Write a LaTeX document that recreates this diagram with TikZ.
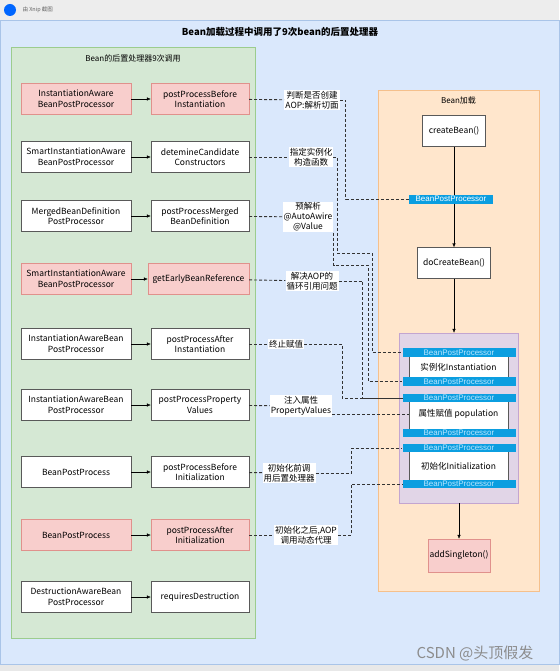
\documentclass[tikz,border=0pt]{standalone}
\usepackage{fontspec}
\setmainfont{Noto Sans CJK SC}
\newfontfamily\bppfont{Liberation Sans}
\usetikzlibrary{positioning, arrows.meta}
\definecolor{outerbg}{HTML}{DAE8FC}
\definecolor{outerline}{HTML}{A9C4E8}
\definecolor{greenbg}{HTML}{D5E8D4}
\definecolor{greenline}{HTML}{9CCC8E}
\definecolor{pinkbg}{HTML}{F8CECC}
\definecolor{pinkline}{HTML}{E0918C}
\definecolor{orangebg}{HTML}{FFE6CC}
\definecolor{orangeline}{HTML}{F5C08C}
\definecolor{purplebg}{HTML}{E1D5E7}
\definecolor{purpleline}{HTML}{C3A5D0}
\definecolor{bppblue}{HTML}{0B9EE0}
\definecolor{bpptext}{HTML}{B8E6FF}
\tikzset{box/.style={draw=black!65,fill=white,inner sep=1pt,align=center,font=\fontsize{8.5}{10.5}\selectfont},
         proc/.style={box,minimum width=110pt,minimum height=31pt},
         meth/.style={box,minimum width=98pt,minimum height=31pt},
         hot/.style={fill=pinkbg,draw=pinkline},
         note/.style={fill=white,inner sep=1pt,align=center,font=\fontsize{8.5}{10}\selectfont},
         hint/.style={draw=black!80,line width=0.9pt,dash pattern=on 3pt off 2pt},
         bar/.style={fill=bppblue,minimum width=113pt,minimum height=8.5pt,inner sep=0pt,text=bpptext,font=\bppfont\fontsize{8}{8}\selectfont},
        }

\begin{document}
\begin{tikzpicture}[x=1pt,y=-1pt,>={Latex[length=4pt,width=3.5pt]}]
        \useasboundingbox(0,0)rectangle(559,671);
        \fill[black!7](0,0)rectangle(559,20);
        \fill[blue!60!cyan](10,10)circle(6pt);
        \node[font=\fontsize{5.5}{5.5}\selectfont, text=black!60, anchor=west](xnip)at(19,10){由 Xnip 截图};
        \fill[black!9](0,664)rectangle(559,671);

        \node[draw=outerline, fill=outerbg, minimum width=559pt, minimum height=644pt, inner sep=0pt](outer)at(279.5,342){};
        \node[font=\bfseries\fontsize{9.5}{11}\selectfont](title)at(280,32){Bean加载过程中调用了9次bean的后置处理器};

        \node[draw=greenline, fill=greenbg, minimum width=244pt, minimum height=591pt, inner sep=0pt](left)at(133,342.5){};
        \node[font=\fontsize{8}{9}\selectfont, below=4pt of left.north](lefttitle){Bean的后置处理器9次调用};

        \node[proc, hot](p1)at(76,99){InstantiationAware\\BeanPostProcessor};
        \node[meth, hot](m1)at(200,99){postProcessBefore\\Instantiation};
        \node[proc](p2)at(76,157){SmartInstantiationAware\\BeanPostProcessor};
        \node[meth](m2)at(200,157){detemineCandidate\\Constructors};
        \node[proc](p3)at(76,216){MergedBeanDefinition\\PostProcessor};
        \node[meth](m3)at(200,216){postProcessMerged\\BeanDefinition};
        \node[proc, hot](p4)at(76,279){SmartInstantiationAware\\BeanPostProcessor};
        \node[meth, hot, minimum width=101pt](m4)at(198.5,279){getEarlyBeanReference};
        \node[proc](p5)at(76,344){InstantiationAwareBean\\PostProcessor};
        \node[meth](m5)at(200,344){postProcessAfter\\Instantiation};
        \node[proc](p6)at(76,405){InstantiationAwareBean\\PostProcessor};
        \node[meth](m6)at(200,405){postProcessProperty\\Values};
        \node[proc](p7)at(76,472){BeanPostProcess};
        \node[meth](m7)at(200,472){postProcessBefore\\Initialization};
        \node[proc, hot](p8)at(76,535){BeanPostProcess};
        \node[meth, hot](m8)at(200,535){postProcessAfter\\Initialization};
        \node[proc](p9)at(76,597){DestructionAwareBean\\PostProcessor};
        \node[meth](m9)at(200,597){requiresDestruction};

        \draw[->](p1)--(m1);
        \draw[->](p2)--(m2);
        \draw[->](p3)--(m3);
        \draw[->](p4)--(m4);
        \draw[->](p5)--(m5);
        \draw[->](p6)--(m6);
        \draw[->](p7)--(m7);
        \draw[->](p8)--(m8);
        \draw[->](p9)--(m9);

        \node[draw=orangeline, fill=orangebg, minimum width=161pt, minimum height=501pt, inner sep=0pt](load)at(458.5,340.5){};
        \node[font=\fontsize{8}{9}\selectfont, below=3pt of load.north](loadtitle){Bean加载};

        \node[box, minimum width=63pt, minimum height=31pt](cb)at(454,131){createBean()};
        \node[box, minimum width=73pt, minimum height=31pt](dcb)at(454,263){doCreateBean()};
        \draw[->](cb)--(dcb);
        \node[bar, minimum width=84pt, minimum height=9pt, text=white](bpp)at(451,199){BeanPostProcessor};

        \node[draw=purpleline, fill=purplebg, minimum width=119pt, minimum height=170pt, inner sep=0pt](life)at(458.5,418){};
        \draw[->](dcb.south)--(dcb.south|-life.north);

        \node[box, minimum width=99pt, minimum height=30pt](inst)at(458.5,367){实例化Instantiation};
        \node[box, minimum width=99pt, minimum height=33pt](pop)at(458.5,414){属性赋值 population};
        \node[box, minimum width=99pt, minimum height=36pt](init)at(458.5,466){初始化Initialization};
        \node[bar](b1)at(459,352.5){BeanPostProcessor};
        \node[bar](b2)at(459,381.5){BeanPostProcessor};
        \node[bar](b3)at(459,398){BeanPostProcessor};
        \node[bar](b4)at(459,433){BeanPostProcessor};
        \node[bar](b5)at(459,448){BeanPostProcessor};
        \node[bar](b6)at(459,484){BeanPostProcessor};

        \node[box, hot, minimum width=62pt, minimum height=33pt](add)at(459,555.5){addSingleton()};
        \draw[->](life.south-|add)--(add);

        \node[note](n1)at(312,100){判断是否创建\\AOP:解析切面};
        \node[note](n2)at(311,157){指定实例化\\构造函数};
        \node[note](n3)at(308,217){预解析\\@AutoAwire\\@Value};
        \node[note](n4)at(312,281){解决AOP的\\循环引用问题};
        \node[note](n5)at(286,344){终止赋值};
        \node[note](n6)at(301,406){注入属性\\PropertyValues};
        \node[note](n7)at(289,473){初始化前调\\用后置处理器};
        \node[note](n8)at(306,535){初始化之后,AOP\\调用动态代理};

        \draw[hint](m1)--(n1);
        \draw[hint](m2)--(n2);
        \draw[hint](m3)--(n3);
        \draw[hint](m4)--(n4);
        \draw[hint](m5)--(n5);
        \draw[hint](m6)--(n6);
        \draw[hint](m7)--(n7);
        \draw[hint](m8)--(n8);

        \draw[hint](n1.east)--++(6,0)|-(bpp.west);
        \draw[hint](n2.east)-|(337,253)-|([xshift=-30pt]b1.west)--(b1.west);
        \draw[hint](n3.south east)|-(368,265)|-(b2.west);
        \draw[hint](n4.east)-|([xshift=-40pt]b3.west)--(b3.west);
        \draw[hint](n5.east)-|([xshift=-60pt]b3.west)--(b3.west);
        \draw[hint](n6.east|-pop)--(pop.west);
        \draw[hint](n7.east)-|([xshift=-51pt]b5.west)--(b5.west);
        \draw[hint](n8.east)-|([xshift=-51pt]b6.west)--(b6.west);

        \node[text=black!45, font=\fontsize{15}{15}\selectfont](mark)at(475,653){CSDN @头顶假发};
    \end{tikzpicture}
\end{document}
